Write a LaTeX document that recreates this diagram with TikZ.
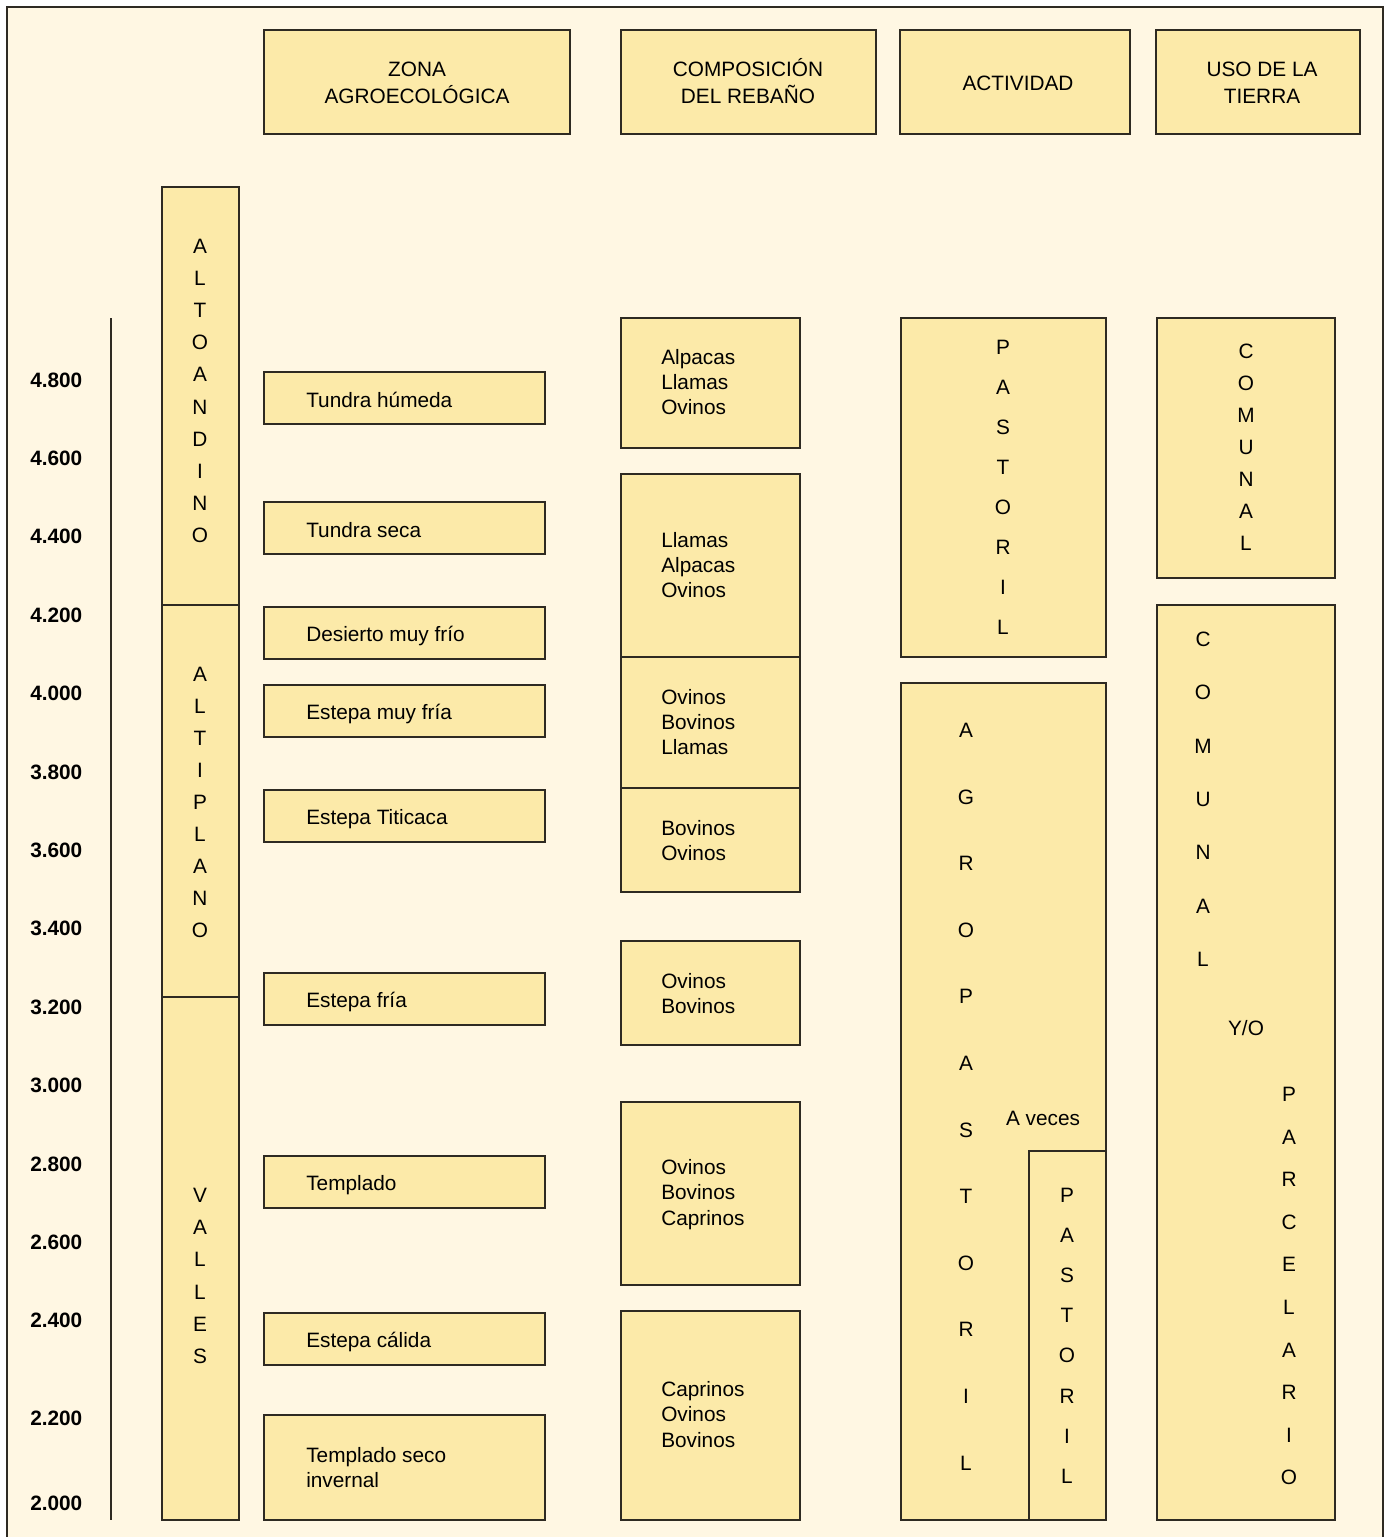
\documentclass[tikz,border=0pt]{standalone}
\usepackage{fontspec}
\setmainfont{Liberation Sans}
\usetikzlibrary{fit}
\definecolor{bgcream}{HTML}{FFF7E3}
\definecolor{boxfill}{HTML}{FCEAA9}
\definecolor{edge}{HTML}{2E2A22}
\tikzset{
  box/.style={draw=edge, fill=boxfill, line width=1pt, inner sep=0pt, rectangle},
  txt/.style={anchor=base west, inner sep=0pt, font=\fontsize{15.6}{19}\selectfont, text=black},
  ctxt/.style={anchor=base, inner sep=0pt, font=\fontsize{15.6}{19}\selectfont, text=black},
  alt/.style={anchor=base west, inner sep=0pt, font=\fontsize{15.6}{19}\selectfont\bfseries, text=black},
}
% box: name, x1, y1, x2, y2 (pixel coordinates, y downward)
\newcommand{\bx}[5]{\node[box, fit={(#2,#3) (#4,#5)}] (#1) {};}
% left text line: name, x, y-center, text
\newcommand{\tl}[4]{\node[txt] (#1) at (#2,#3+7.5) {#4};}
% centred text line
\newcommand{\tc}[4]{\node[ctxt] (#1) at (#2,#3+7.5) {#4};}
% stacked letters: prefix, x, first y, step, list
\newcommand{\stack}[5]{\foreach \ch [count=\i from 0] in {#5} {\node[ctxt] (#1\i) at (#2,#3+\i*#4+7.5) {\ch};}}
\begin{document}
\begin{tikzpicture}[x=0.75pt,y=-0.75pt]
\useasboundingbox (0,0) rectangle (1391,1537);
\fill[white] (0,0) rectangle (1391,1537);
\fill[bgcream] (7,7) rectangle (1383,1537);
\draw[edge, line width=1pt] (7,1537) -- (7,7) -- (1383,7) -- (1383,1537);

% headers
\bx{hzona}{264}{30}{570}{134}
\bx{hcomp}{621}{30}{876}{134}
\bx{hact}{900}{30}{1130}{134}
\bx{huso}{1156}{30}{1360}{134}
\tc{hzonaA}{417}{69}{ZONA}
\tc{hzonaB}{417}{96}{AGROECOLÓGICA}
\tc{hcompA}{748}{69}{COMPOSICIÓN}
\tc{hcompB}{748}{96}{DEL REBAÑO}
\tc{hactA}{1018}{83}{ACTIVIDAD}
\tc{husoA}{1262}{69}{USO DE LA}
\tc{husoB}{1262}{96}{TIERRA}

% altitude axis
\coordinate (axtop) at (111,318);
\coordinate (axbot) at (111,1520);
\draw[edge, line width=1pt] (axtop) -- (axbot);
\foreach \lab/\yy [count=\k] in {4.800/380,4.600/458,4.400/536,4.200/615,4.000/693,3.800/772,3.600/850,3.400/928,3.200/1007,3.000/1085,2.800/1164,2.600/1242,2.400/1320,2.200/1418,2.000/1503}
  {\node[alt] (alt\k) at (30,\yy+7.5) {\lab};}

% regions
\bx{ralto}{162}{187}{239}{605}
\bx{ralti}{162}{605}{239}{997}
\bx{rvall}{162}{997}{239}{1520}
\stack{altoL}{200}{246}{32.1}{A,L,T,O,A,N,D,I,N,O}
\stack{altiL}{200}{674}{32}{A,L,T,I,P,L,A,N,O}
\stack{vallL}{200}{1195}{32.2}{V,A,L,L,E,S}

% zones
\bx{z1}{264}{372}{545}{424}
\bx{z2}{264}{502}{545}{554}
\bx{z3}{264}{607}{545}{659}
\bx{z4}{264}{685}{545}{737}
\bx{z5}{264}{790}{545}{842}
\bx{z6}{264}{973}{545}{1025}
\bx{z7}{264}{1156}{545}{1208}
\bx{z8}{264}{1313}{545}{1365}
\bx{z9}{264}{1415}{545}{1520}
\tl{z1t}{306}{399.5}{Tundra húmeda}
\tl{z2t}{306}{530}{Tundra seca}
\tl{z3t}{306}{634}{Desierto muy frío}
\tl{z4t}{306}{712}{Estepa muy fría}
\tl{z5t}{306}{817}{Estepa Titicaca}
\tl{z6t}{306}{1000}{Estepa fría}
\tl{z7t}{306}{1183}{Templado}
\tl{z8t}{306}{1340}{Estepa cálida}
\tl{z9a}{306}{1455}{Templado seco}
\tl{z9b}{306}{1480}{invernal}

% herd composition
\bx{c1}{621}{318}{800}{448}
\bx{c2}{621}{474}{800}{657}
\bx{c3}{621}{657}{800}{788}
\bx{c4}{621}{788}{800}{892}
\bx{c5}{621}{941}{800}{1045}
\bx{c6}{621}{1102}{800}{1285}
\bx{c7}{621}{1311}{800}{1520}
\tl{c1a}{661}{357}{Alpacas}
\tl{c1b}{661}{382}{Llamas}
\tl{c1c}{661}{407}{Ovinos}
\tl{c2a}{661}{540}{Llamas}
\tl{c2b}{661}{565}{Alpacas}
\tl{c2c}{661}{590}{Ovinos}
\tl{c3a}{661}{697}{Ovinos}
\tl{c3b}{661}{722}{Bovinos}
\tl{c3c}{661}{747}{Llamas}
\tl{c4a}{661}{828}{Bovinos}
\tl{c4b}{661}{853}{Ovinos}
\tl{c5a}{661}{981}{Ovinos}
\tl{c5b}{661}{1006}{Bovinos}
\tl{c6a}{661}{1167}{Ovinos}
\tl{c6b}{661}{1192}{Bovinos}
\tl{c6c}{661}{1218}{Caprinos}
\tl{c7a}{661}{1389}{Caprinos}
\tl{c7b}{661}{1414}{Ovinos}
\tl{c7c}{661}{1440}{Bovinos}

% activity
\bx{a1}{901}{318}{1106}{657}
\bx{a2}{901}{683}{1106}{1520}
\bx{a3}{1029}{1151}{1106}{1520}
\stack{a1L}{1003}{347}{40}{P,A,S,T,O,R,I,L}
\stack{a2L}{966}{730}{66.6}{A,G,R,O,P,A,S,T,O,R,I,L}
\stack{a3L}{1067}{1195}{40.1}{P,A,S,T,O,R,I,L}
\tc{aveces}{1043}{1118}{A veces}

% land use
\bx{u1}{1157}{318}{1335}{578}
\bx{u2}{1157}{605}{1335}{1520}
\stack{u1L}{1246}{351}{32}{C,O,M,U,N,A,L}
\stack{u2L}{1203}{639}{53.3}{C,O,M,U,N,A,L}
\tc{yo}{1246}{1028}{Y/O}
\stack{u3L}{1289}{1094}{42.6}{P,A,R,C,E,L,A,R,I,O}
\end{tikzpicture}
\end{document}
